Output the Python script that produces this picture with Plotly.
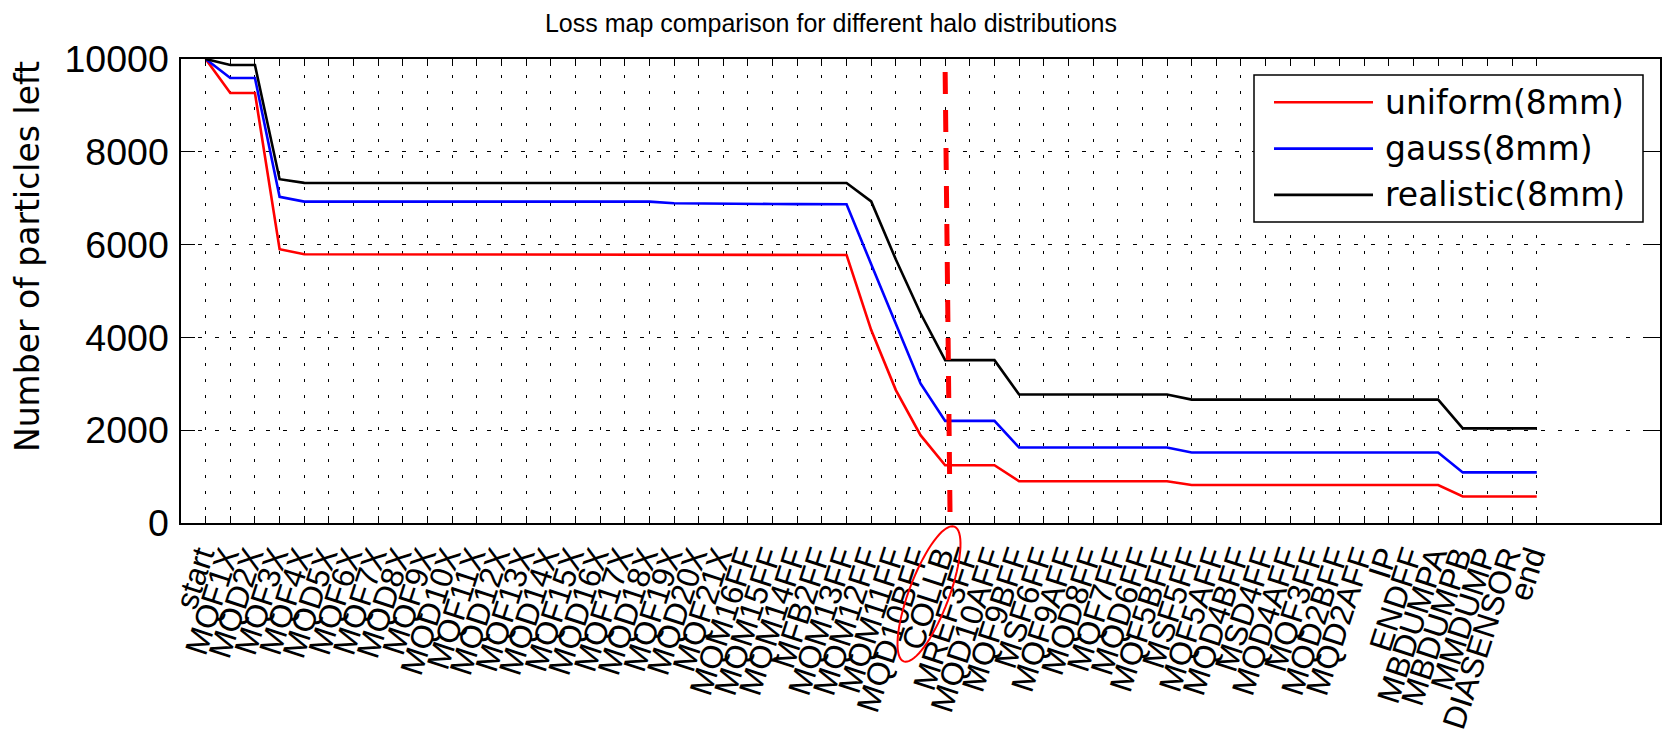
import numpy as np
import plotly.graph_objects as go

labels = ["start", "MQF1X", "MQD2X", "MQF3X", "MQF4X", "MQD5X", "MQF6X", "MQF7X", "MQD8X",
          "MQF9X", "MQD10X", "MQF11X", "MQD12X", "MQF13X", "MQD14X", "MQF15X", "MQD16X",
          "MQF17X", "MQD18X", "MQF19X", "MQD20X", "MQF21X", "MQM16FF", "MQM15FF", "MQM14FF",
          "MFB2FF", "MQM13FF", "MQM12FF", "MQM11FF", "MQD10BFF", "COLLB", "MREF3FF",
          "MQD10AFF", "MQF9BFF", "MSF6FF", "MQF9AFF", "MQD8FF", "MQF7FF", "MQD6FF", "MQF5BFF",
          "MSF5FF", "MQF5AFF", "MQD4BFF", "MSD4FF", "MQD4AFF", "MQF3FF", "MQD2BFF", "MQD2AFF",
          "IP", "ENDFF", "MBDUMPA", "MBDUMPB", "MMDUMP", "DIASENSOR", "end"]

uniform = [10000, 9266, 9266, 5900, 5792, 5792, 5792, 5792, 5792, 5792, 5792, 5792, 5792,
           5792, 5792, 5792, 5792, 5792, 5792, 5780, 5780, 5780, 5780, 5780, 5780, 5780, 5777,
           4158, 2864, 1893, 1245, 1245, 1245, 900, 900, 900, 900, 900, 900, 900, 820, 820,
           820, 820, 820, 820, 820, 820, 820, 820, 820, 570, 570, 570, 570]
gauss = [10000, 9590, 9590, 7030, 6927, 6927, 6927, 6927, 6927, 6927, 6927, 6927, 6927, 6927,
         6927, 6927, 6927, 6927, 6927, 6890, 6890, 6890, 6875, 6875, 6872, 6872, 6871, 5577,
         4281, 3008, 2200, 2200, 2200, 1627, 1627, 1627, 1627, 1627, 1627, 1627, 1520, 1520,
         1520, 1520, 1520, 1520, 1520, 1520, 1520, 1520, 1520, 1090, 1090, 1090, 1090]
realistic = [10000, 9870, 9870, 7410, 7330, 7330, 7330, 7330, 7330, 7330, 7330, 7330, 7330,
             7330, 7330, 7330, 7330, 7330, 7330, 7330, 7330, 7330, 7330, 7330, 7330, 7330, 7326,
             6930, 5680, 4520, 3510, 3510, 3510, 2770, 2770, 2770, 2770, 2770, 2770, 2770, 2660,
             2660, 2660, 2660, 2660, 2660, 2660, 2660, 2660, 2660, 2660, 2040, 2040, 2040, 2040]

series_names = ["uniform(8mm)", "gauss(8mm)", "realistic(8mm)"]
series_colors = ["#ff0000", "#0000ff", "#000000"]
yticks = [0, 2000, 4000, 6000, 8000, 10000]
ytick_text = ["0", "2000", "4000", "6000", "8000", "10000"]
collimator_label = "COLLB"

W, H = 1662, 735
ML, MR, MT, MB = 181, 2, 59, 212
x_range = [-1, 59]

x = list(range(len(labels)))
fig = go.Figure()
for name, vals, col in zip(series_names, [uniform, gauss, realistic], series_colors):
    fig.add_trace(go.Scatter(x=x, y=vals, mode="lines", name=name,
                             line=dict(color=col, width=2.6), showlegend=False))

# pixel helpers for annotation geometry
pw = W - ML - MR
ph = H - MT - MB
def px_to_x(px):
    return x_range[0] + (px - ML) / pw * (x_range[1] - x_range[0])
def py_to_paper(py):
    return (H - MB - py) / ph
def px_to_paper(px):
    return (px - ML) / pw

coll_idx = labels.index(collimator_label)
# red dashed vertical line at the collimator
fig.add_shape(type="line", xref="x", yref="paper",
              x0=coll_idx + 0.0, x1=coll_idx + 0.2, y0=py_to_paper(72), y1=py_to_paper(518),
              line=dict(color="#ff0000", width=5, dash="22px,16px"))

# red ellipse around the COLLB label
cx, cy, a, b, th = 929, 594, 72, 20, np.deg2rad(20.6)
ux, uy = np.sin(th), -np.cos(th)
vx, vy = np.cos(th), np.sin(th)
t = np.linspace(0, 2 * np.pi, 73)
pxs = cx + a * np.cos(t) * ux + b * np.sin(t) * vx
pys = cy + a * np.cos(t) * uy + b * np.sin(t) * vy
path = "M " + " L ".join(f"{px_to_x(p):.4f},{py_to_paper(q):.4f}" for p, q in zip(pxs, pys)) + " Z"
fig.add_shape(type="path", xref="x", yref="paper", path=path,
              line=dict(color="#ff0000", width=2))

# legend box (drawn manually to match the long line samples)
fig.add_shape(type="rect", xref="paper", yref="paper",
              x0=px_to_paper(1254), x1=px_to_paper(1643), y0=py_to_paper(222), y1=py_to_paper(75),
              line=dict(color="black", width=1.5), fillcolor="white", layer="above")
for i, (name, col) in enumerate(zip(series_names, series_colors)):
    yy = py_to_paper(102.3 + 46.3 * i)
    fig.add_shape(type="line", xref="paper", yref="paper",
                  x0=px_to_paper(1274), x1=px_to_paper(1373), y0=yy, y1=yy,
                  line=dict(color=col, width=2.6), layer="above")
    fig.add_annotation(xref="paper", yref="paper", x=px_to_paper(1383), y=yy,
                       xanchor="left", yanchor="middle", text=name, showarrow=False,
                       font=dict(family="DejaVu Sans", size=33, color="black"))

# y axis title
fig.add_annotation(xref="paper", yref="paper", x=px_to_paper(27), y=py_to_paper(257),
                   xanchor="center", yanchor="middle", text="Number of particles left",
                   textangle=-90, showarrow=False,
                   font=dict(family="DejaVu Sans", size=33, color="black"))

fig.update_layout(
    width=W, height=H,
    margin=dict(l=ML, r=MR, t=MT, b=MB, autoexpand=False),
    paper_bgcolor="white", plot_bgcolor="white",
    title=dict(text="Loss map comparison for different halo distributions",
               x=0.5, xref="container", xanchor="center",
               y=1 - 23 / H, yref="container", yanchor="middle",
               font=dict(family="Liberation Sans", size=25, color="black")),
    font=dict(family="Liberation Sans", color="black"),
)
fig.update_xaxes(range=x_range, tickmode="array", tickvals=x, ticktext=labels,
                 tickangle=-72, tickfont=dict(family="Liberation Sans", size=32),
                 automargin=False, ticklabelshift=-6, ticklabelstandoff=0,
                 showline=True, linecolor="black", linewidth=1.5, mirror="ticks",
                 ticks="inside", ticklen=7, tickcolor="black", tickwidth=1,
                 showgrid=True, gridcolor="black", gridwidth=1, griddash="3px,13px",
                 zeroline=False)
fig.update_yaxes(range=[0, 10000], tickmode="array", tickvals=yticks, ticktext=ytick_text,
                 tickfont=dict(family="Liberation Sans", size=37.5),
                 automargin=False, ticklabelstandoff=3,
                 showline=True, linecolor="black", linewidth=1.5, mirror="ticks",
                 ticks="inside", ticklen=14, tickcolor="black", tickwidth=1,
                 showgrid=True, gridcolor="black", gridwidth=1, griddash="4px,13px",
                 zeroline=False)

fig.write_html("out.html")
